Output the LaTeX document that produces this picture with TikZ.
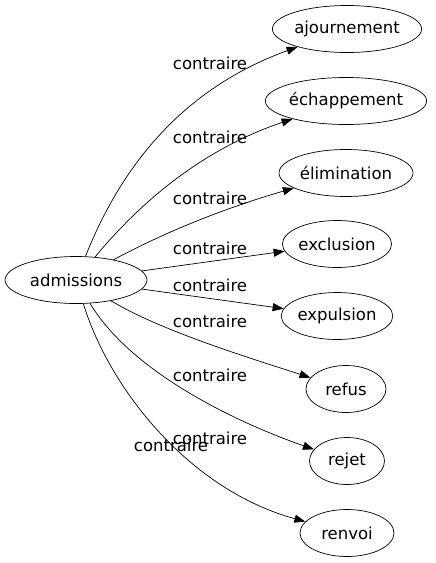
\documentclass[tikz,border=0pt]{standalone}
\usepackage{fontspec}
\setmainfont{DejaVu Sans}
\usetikzlibrary{arrows.meta, positioning, shapes.geometric}

\begin{document}
\begin{tikzpicture}
[x=1pt, y=-1pt,
 ->/.style={line width=0.7pt, arrows={-Triangle[length=11pt,width=8pt]}},
 word/.style={shape=ellipse, draw, line width=0.7pt, inner sep=0pt, minimum height=47pt, font=\fontsize{16.5}{19}\selectfont},
 rel/.style={inner sep=0pt, font=\fontsize{16.5}{19}\selectfont}]
\useasboundingbox (0,0) rectangle (436,563);
\node[word, minimum width=142pt] (adm) at (76, 280) {admissions};
\node[word, minimum width=130pt] (ajo) at (347, 29) {ajournement};
\node[word, minimum width=160pt] (ech) at (346, 101) {échappement};
\node[word, minimum width=134pt] (eli) at (346, 173) {élimination};
\node[word, minimum width=103pt] (exc) at (337, 244) {exclusion};
\node[word, minimum width=106pt] (exp) at (337, 316) {expulsion};
\node[word, minimum width=80pt] (ref) at (346, 389) {refus};
\node[word, minimum width=75pt] (rej) at (347, 461) {rejet};
\node[word, minimum width=94pt] (ren) at (347, 533) {renvoi};
% edges
\draw [->] (adm) .. controls (112,190) and (165,95) .. (ajo);
\draw [->] (adm) .. controls (138,205) and (200,150) .. (ech);
\draw [->] (adm) .. controls (165,232) and (225,208) .. (eli);
\draw [->] (adm) -- (exc);
\draw [->] (adm) -- (exp);
\draw [->] (adm) .. controls (160,330) and (240,355) .. (ref);
\draw [->] (adm) .. controls (130,370) and (230,420) .. (rej);
\draw [->] (adm) .. controls (110,390) and (190,490) .. (ren);
% labels
\node[rel] (l1) at (210, 63) {contraire};
\node[rel] (l2) at (210, 137) {contraire};
\node[rel] (l3) at (210, 198) {contraire};
\node[rel] (l4) at (210, 248) {contraire};
\node[rel] (l5) at (210, 285) {contraire};
\node[rel] (l6) at (210, 321) {contraire};
\node[rel] (l7) at (210, 375) {contraire};
\node[rel] (l8) at (210, 438) {contraire};
\node[rel] (l9) at (171, 445) {contraire};
\end{tikzpicture}
\end{document}
